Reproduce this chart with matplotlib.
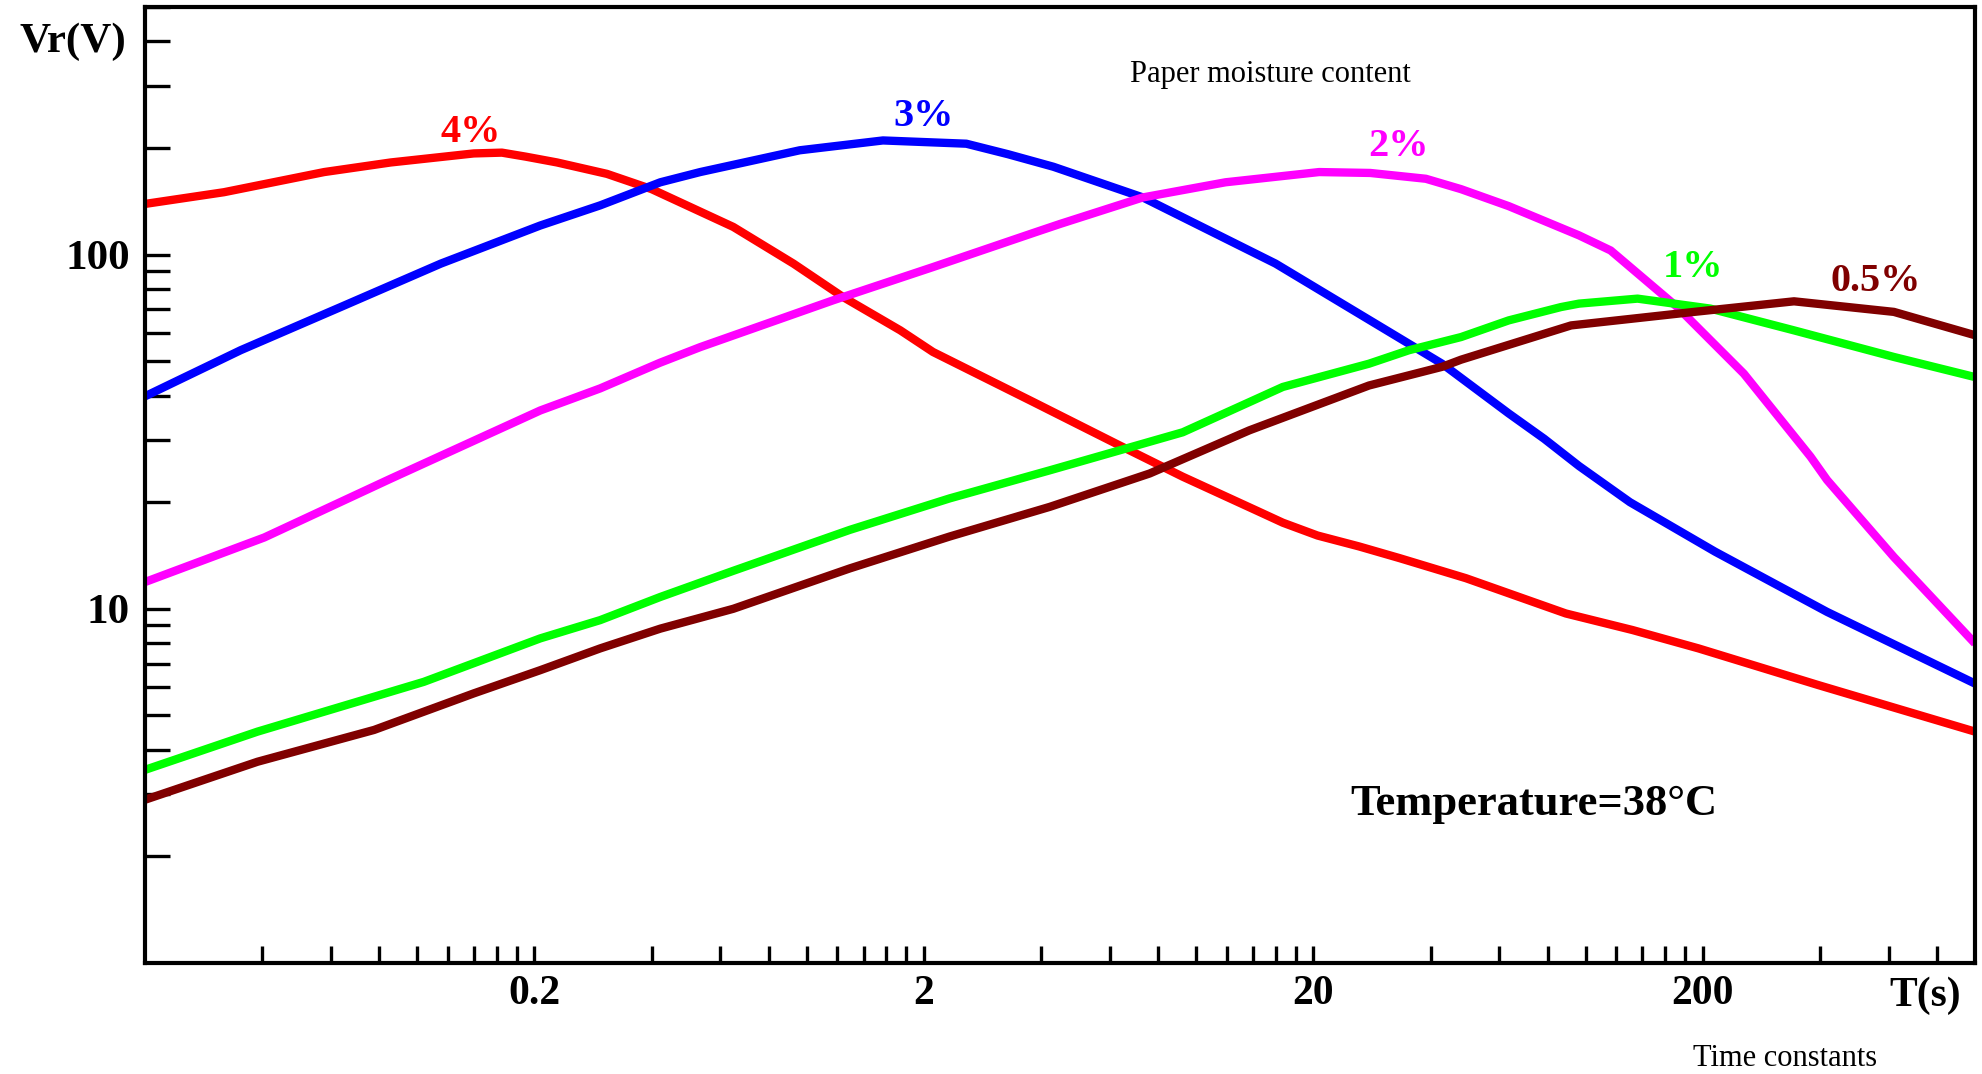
import numpy as np
import matplotlib
matplotlib.use("Agg")
import matplotlib.pyplot as plt
from matplotlib.ticker import FixedLocator, NullFormatter, LogLocator

plt.rcParams['font.family'] = ['Liberation Serif', 'DejaVu Serif']

# DATA (log-log)
t_4 = [0.02, 0.0319, 0.0577, 0.0855, 0.1397, 0.165, 0.19, 0.2286, 0.307, 0.40, 0.648, 0.925,
       1.24, 1.74, 2.11, 3.81, 6.37, 9.24, 14.5, 16.7, 20.5, 26.2, 33.3, 49.3, 89, 132, 195,
       396, 1000]
v_4 = [139, 150, 171, 182, 193, 194, 189, 182, 169, 153, 119.7, 94.3,
       75.9, 61.1, 53.1, 38.4, 28.9, 23.6, 18.8, 17.5, 16.1, 15.0, 13.9, 12.2, 9.7, 8.71, 7.73,
       6.09, 4.5]

t_3 = [0.02, 0.0352, 0.0636, 0.115, 0.207, 0.295, 0.421, 0.533, 0.96, 1.57, 2.57, 3.29, 4.3,
       7.3, 16.0, 28.9, 42.8, 63.5, 78.3, 96.2, 130, 215, 417, 1000]
v_3 = [39.8, 53.7, 71.1, 94.3, 120.8, 137.7, 160, 171, 197, 210, 205.6, 192, 177,
       145, 94.3, 63.8, 49.2, 35.6, 30.2, 25.3, 20.0, 14.5, 9.8, 6.15]

t_2 = [0.02, 0.0405, 0.0855, 0.207, 0.295, 0.42, 0.533, 1.17, 2.11, 3.81, 4.47, 7.3,
       11.9, 20.7, 28, 38.9, 47.9, 63.5, 96.2, 116, 172, 255, 378, 417, 619, 1000]
v_2 = [11.9, 15.9, 23.3, 36.3, 41.9, 49.5, 54.8, 74.3, 92.2, 115, 122, 145,
       160, 171, 170, 163.7, 153, 137, 113.3, 102.7, 71.1, 46.1, 26.9, 23.1, 14.0, 7.98]

t_1 = [0.02, 0.0389, 0.104, 0.207, 0.295, 0.421, 0.648, 1.29, 2.33, 4.21, 9.24,
       16.7, 27.8, 35.2, 47.9, 63.5, 86.5, 96.2, 136, 209, 343, 619, 1000]
v_1 = [3.51, 4.50, 6.22, 8.25, 9.29, 10.8, 12.8, 16.7, 20.5, 24.6, 31.5,
       42.3, 49.2, 53.7, 58.5, 65.2, 71.1, 72.7, 75.1, 70.4, 61.1, 51.4, 45.1]

t_05 = [0.02, 0.0389, 0.0775, 0.1397, 0.207, 0.295, 0.421, 0.648, 1.29, 2.33, 4.21,
        7.6, 13.7, 27.8, 42.8, 47.9, 91.8, 190, 343, 619, 1000]
v_05 = [2.89, 3.70, 4.55, 5.77, 6.71, 7.73, 8.79, 10.0, 13.0, 16.0, 19.4,
        24.1, 31.9, 42.7, 48.2, 50.5, 63.1, 68.9, 73.8, 68.9, 59.2]

series = [
    (t_4, v_4, '#ff0000', '4%'),
    (t_3, v_3, '#0000ff', '3%'),
    (t_2, v_2, '#ff00ff', '2%'),
    (t_1, v_1, '#00ff00', '1%'),
    (t_05, v_05, '#800000', '0.5%'),
]

x_major = [0.2, 2, 20, 200]
x_major_labels = ['0.2', '2', '20', '200']
y_major = [10, 100]
y_major_labels = ['10', '100']

W, H = 1982, 1074


def fx(px):
    return px / W


def fy(py):
    return 1 - py / H


fig = plt.figure(figsize=(W / 100, H / 100), dpi=100)
ax = fig.add_axes([fx(145), fy(963), fx(1975) - fx(145), fy(7) - fy(963)])

for t, v, col, lab in series:
    ax.plot(t, v, color=col, lw=6, solid_capstyle='butt', solid_joinstyle='round')

ax.set_xscale('log')
ax.set_yscale('log')
ax.set_xlim(0.02, 1000)
ax.set_ylim(1, 500)

# x ticks: decades start at 0.02, 0.2, 2 ...
x_minor = [k * 0.02 * 10 ** n for n in range(5) for k in range(2, 10)]
x_minor = [m for m in x_minor if m < 1000]
ax.xaxis.set_major_locator(FixedLocator(x_major))
ax.xaxis.set_minor_locator(FixedLocator(x_minor))
ax.set_xticklabels(x_major_labels)
ax.xaxis.set_minor_formatter(NullFormatter())

ax.yaxis.set_major_locator(FixedLocator(y_major))
ax.yaxis.set_minor_locator(LogLocator(base=10, subs=np.arange(2, 10)))
ax.set_yticklabels(y_major_labels)
ax.yaxis.set_minor_formatter(NullFormatter())

ax.tick_params(axis='x', which='both', direction='in', length=12, width=2.4,
               labelsize=30, pad=9, top=False)
ax.tick_params(axis='y', which='both', direction='in', length=18, width=2.4,
               labelsize=31, pad=11, right=False)
for lbl in ax.get_xticklabels() + ax.get_yticklabels():
    lbl.set_fontweight('bold')
for sp in ax.spines.values():
    sp.set_linewidth(3)

# annotations
fig.text(fx(73), fy(42), 'Vr(V)', fontsize=31, fontweight='bold', ha='center', va='center')
fig.text(fx(1925), fy(996), 'T(s)', fontsize=30, fontweight='bold', ha='center', va='center')
fig.text(fx(1785), fy(1059), 'Time constants', fontsize=22, ha='center', va='center')
fig.text(fx(1270), fy(82), 'Paper moisture content', fontsize=22, ha='center', va='baseline')
fig.text(fx(1350), fy(815), 'Temperature=38°C', fontsize=32, fontweight='bold',
         ha='left', va='baseline')

label_pos = [(471, 142), (924, 126), (1398, 156), (1693, 277), (1876, 291)]
for (t, v, col, lab), (lx, ly) in zip(series, label_pos):
    fig.text(fx(lx), fy(ly), lab, fontsize=29, fontweight='bold', color=col,
             ha='center', va='baseline')

fig.savefig('out.png', dpi=100)
